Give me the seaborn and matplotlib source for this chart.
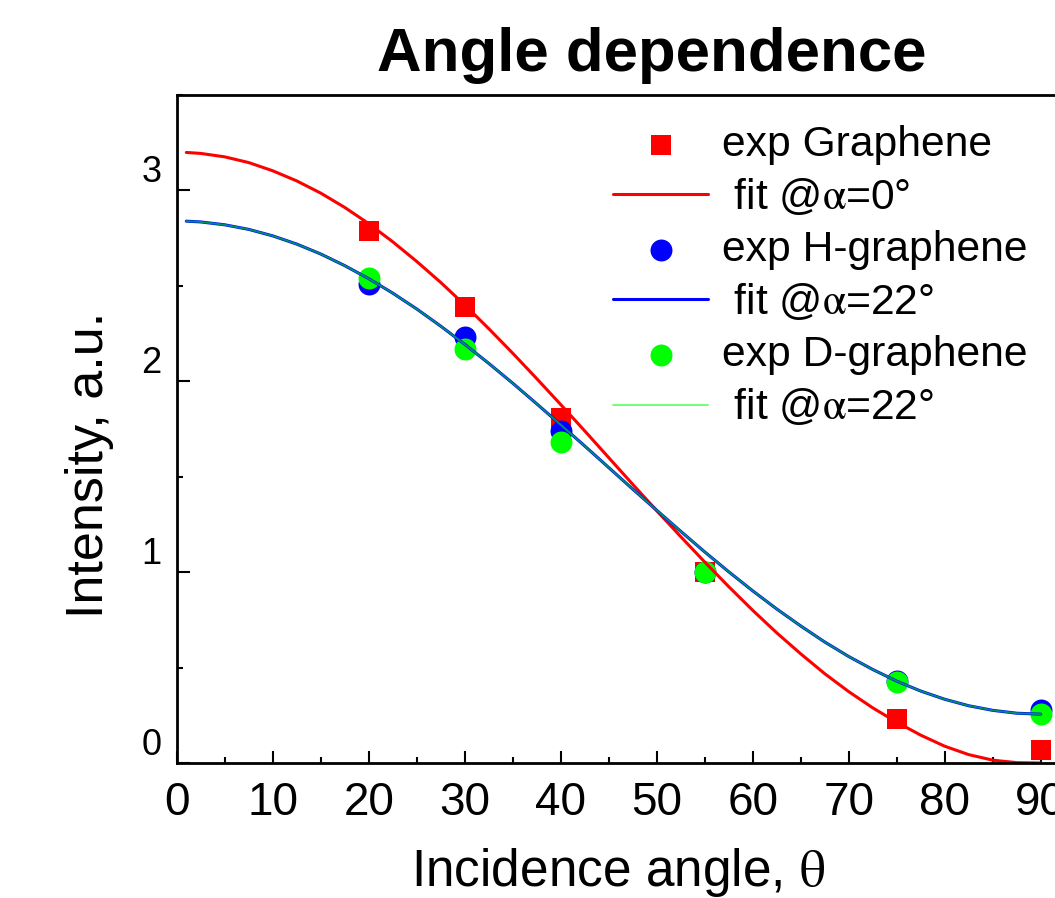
import matplotlib
matplotlib.use("Agg")
import matplotlib.pyplot as plt
from matplotlib.ticker import MultipleLocator
import seaborn as sns

# ---------------- data ----------------
angles_exp = [20, 30, 40, 55, 75, 90]
exp_graphene = [2.79, 2.39, 1.81, 1.00, 0.23, 0.07]
exp_h_graphene = [2.51, 2.23, 1.74, 1.00, 0.43, 0.28]
exp_d_graphene = [2.54, 2.17, 1.68, 1.00, 0.425, 0.255]

angles_fit = [1, 2.5, 5, 7.5, 10, 12.5, 15, 17.5, 20, 22.5, 25, 27.5, 30,
              32.5, 35, 37.5, 40, 42.5, 45, 47.5, 50, 52.5, 55, 57.5, 60,
              62.5, 65, 67.5, 70, 72.5, 75, 77.5, 80, 82.5, 85, 87.5, 90]
fit_graphene = [3.199, 3.194, 3.176, 3.146, 3.103, 3.050, 2.986, 2.911, 2.826,
                2.731, 2.628, 2.518, 2.400, 2.276, 2.147, 2.014, 1.878, 1.740,
                1.600, 1.460, 1.322, 1.186, 1.053, 0.924, 0.800, 0.682, 0.572,
                0.468, 0.374, 0.289, 0.214, 0.146, 0.088, 0.044, 0.015, 0.002,
                0.0]
fit_h_graphene = [2.839, 2.835, 2.820, 2.796, 2.762, 2.719, 2.667, 2.606,
                  2.538, 2.462, 2.379, 2.289, 2.194, 2.094, 1.990, 1.882,
                  1.772, 1.661, 1.548, 1.435, 1.324, 1.214, 1.106, 1.002,
                  0.902, 0.807, 0.718, 0.634, 0.558, 0.490, 0.429, 0.377,
                  0.334, 0.300, 0.276, 0.261, 0.256]
fit_d_graphene = [2.839, 2.835, 2.820, 2.796, 2.762, 2.719, 2.667, 2.606,
                  2.538, 2.462, 2.379, 2.289, 2.194, 2.094, 1.990, 1.882,
                  1.772, 1.661, 1.548, 1.435, 1.324, 1.214, 1.106, 1.002,
                  0.902, 0.807, 0.718, 0.634, 0.558, 0.490, 0.429, 0.377,
                  0.334, 0.300, 0.276, 0.261, 0.256]

labels = ["exp Graphene", " fit @$\\mathrm{\\alpha}$=0°",
          "exp H-graphene", " fit @$\\mathrm{\\alpha}$=22°",
          "exp D-graphene", " fit @$\\mathrm{\\alpha}$=22°"]

# ---------------- style ----------------
sns.set_style("ticks")
plt.rcParams["font.family"] = ["Liberation Sans", "DejaVu Sans"]
plt.rcParams["mathtext.fontset"] = "stix"
plt.rcParams["text.color"] = "black"
plt.rcParams["axes.labelcolor"] = "black"
plt.rcParams["xtick.color"] = "black"
plt.rcParams["ytick.color"] = "black"
plt.rcParams["axes.edgecolor"] = "black"

fig = plt.figure(figsize=(10.55, 8.98), dpi=100)
ax = fig.add_axes([0.1675, 0.1503, 0.91, 0.7439])

RED, BLUE, GREEN = "#ff0000", "#0000ff", "#00ff00"

sns.scatterplot(x=angles_exp, y=exp_graphene, marker="s", s=207, color=RED,
                linewidth=0, label=labels[0], ax=ax, zorder=1)
sns.lineplot(x=angles_fit, y=fit_graphene, color=RED, lw=2.2, sort=False,
             estimator=None, label=labels[1], ax=ax, zorder=2)
sns.scatterplot(x=angles_exp, y=exp_h_graphene, marker="o", s=250, color=BLUE,
                linewidth=0, label=labels[2], ax=ax, zorder=1)
sns.lineplot(x=angles_fit, y=fit_h_graphene, color=BLUE, lw=2.2, sort=False,
             estimator=None, label=labels[3], ax=ax, zorder=2)
sns.scatterplot(x=angles_exp, y=exp_d_graphene, marker="o", s=250, color=GREEN,
                linewidth=0, label=labels[4], ax=ax, zorder=1)
sns.lineplot(x=angles_fit, y=fit_d_graphene, color=GREEN, lw=1.4, alpha=0.55,
             sort=False, estimator=None, label=labels[5], ax=ax, zorder=2)

# ---------------- axes ----------------
ax.set_xlim(0, 100)
ax.set_ylim(0, 3.5)
ax.xaxis.set_major_locator(MultipleLocator(10))
ax.xaxis.set_minor_locator(MultipleLocator(5))
ax.yaxis.set_major_locator(MultipleLocator(1))
ax.yaxis.set_minor_locator(MultipleLocator(0.5))
ax.tick_params(which="both", direction="in", top=False, right=False,
               width=1.5, color="black", labelcolor="black")
ax.tick_params(which="major", length=9)
ax.tick_params(which="minor", length=4.5)
ax.tick_params(axis="x", labelsize=33, pad=13)
ax.tick_params(axis="y", labelsize=26, pad=11)
for sp in ["left", "bottom", "top", "right"]:
    ax.spines[sp].set_linewidth(2)
    ax.spines[sp].set_color("black")

fig.canvas.draw()
for t in ax.get_yticklabels():
    t.set_verticalalignment("bottom")

ax.set_title("Angle dependence", fontsize=44.5, fontweight="bold", pad=17,
             x=0.495, color="black")
ax.set_xlabel("Incidence angle, $\\mathrm{\\theta}$", fontsize=37)
ax.xaxis.set_label_coords(0.46, -0.124)
ax.set_ylabel("Intensity, a.u.", fontsize=37.5)
ax.yaxis.set_label_coords(-0.0653, 0.446)

handles, labs = ax.get_legend_handles_labels()
ax.legend(handles, labs, loc="upper left", bbox_to_anchor=(0.4545, 0.9555),
          frameon=False, fontsize=30.7, handlelength=2.23, handletextpad=0.33,
          labelspacing=0.285, borderpad=0, borderaxespad=0, numpoints=1,
          scatterpoints=1, labelcolor="black")

fig.savefig("out.png", dpi=100)
